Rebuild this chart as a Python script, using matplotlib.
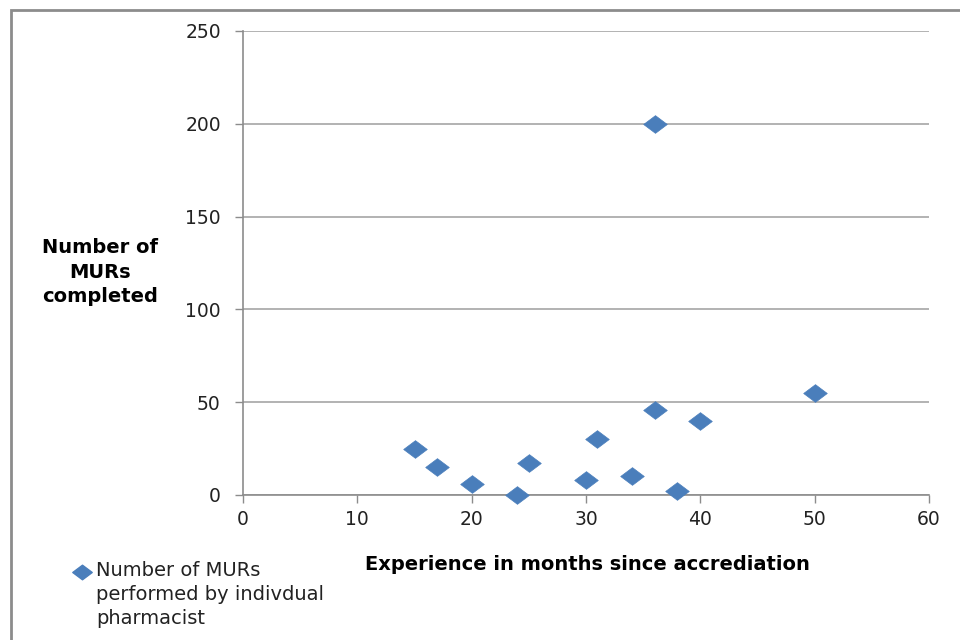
import matplotlib
matplotlib.use("Agg")
import matplotlib.pyplot as plt
from matplotlib.path import Path
from matplotlib.patches import Rectangle

# Experience (months since accreditation) vs MURs completed
months = [15, 17, 20, 24, 25, 30, 31, 34, 36, 36, 38, 40, 50]
murs = [25, 15, 6, 0, 17, 8, 30, 10, 200, 46, 2, 40, 55]
x_ticks = [0, 10, 20, 30, 40, 50, 60]
y_ticks = [0, 50, 100, 150, 200, 250]
series_label = "Number of MURs\nperformed by indivdual\npharmacist"
x_label = "Experience in months since accrediation"
y_label = "Number of\nMURs\ncompleted"

blue = "#4A7EBB"
grid_gray = "#A6A6A6"
axis_gray = "#8C8C8C"
text_col = "#222222"

# flattened diamond marker
diamond = Path([(-1, 0), (0, 0.75), (1, 0), (0, -0.75), (-1, 0)],
               [Path.MOVETO, Path.LINETO, Path.LINETO, Path.LINETO, Path.CLOSEPOLY])

fig = plt.figure(figsize=(9.6, 6.4), dpi=100)
fig.patch.set_facecolor("white")

# chart area border
fig.patches.append(Rectangle((11 / 960, -0.1), 1.2, 1 - 10 / 640 + 0.1,
                             transform=fig.transFigure, fill=False,
                             edgecolor="#8C8C8C", linewidth=2.0, zorder=0))

ax = fig.add_axes([243 / 960, (640 - 495) / 640, 686 / 960, 464 / 640])
ax.plot(months, murs, linestyle="none", marker=diamond, markersize=17,
        markerfacecolor=blue, markeredgecolor=blue, markeredgewidth=0.5,
        zorder=3, clip_on=False)

ax.set_xlim(0, 60)
ax.set_ylim(0, 250)
ax.set_xticks(x_ticks)
ax.set_yticks(y_ticks)
ax.tick_params(axis="both", direction="out", length=6, width=1,
               color=axis_gray, labelsize=13.5, labelcolor=text_col)
ax.tick_params(axis="x", pad=5)
ax.tick_params(axis="y", pad=10)
ax.yaxis.grid(True, color=grid_gray, linewidth=1.2)
ax.set_axisbelow(True)
for side in ("top", "right"):
    ax.spines[side].set_visible(False)
for side in ("left", "bottom"):
    ax.spines[side].set_color(axis_gray)
    ax.spines[side].set_linewidth(1.2)

fig.text(587 / 960, 1 - 564 / 640, x_label, ha="center", va="center",
         fontsize=14, fontweight="bold", color="black")
fig.text(100 / 960, 1 - 272 / 640, y_label, ha="center", va="center",
         fontsize=14, fontweight="bold", color="black", linespacing=1.35)

# legend entry: marker beside the first line of the label
fig.add_artist(plt.Line2D([82 / 960], [1 - 572 / 640], transform=fig.transFigure,
                          linestyle="none", marker=diamond, markersize=14,
                          markerfacecolor=blue, markeredgecolor=blue))
fig.text(96 / 960, 1 - 561 / 640, series_label, ha="left", va="top",
         fontsize=14, color=text_col, linespacing=1.32)

fig.savefig("out.png", dpi=100)
